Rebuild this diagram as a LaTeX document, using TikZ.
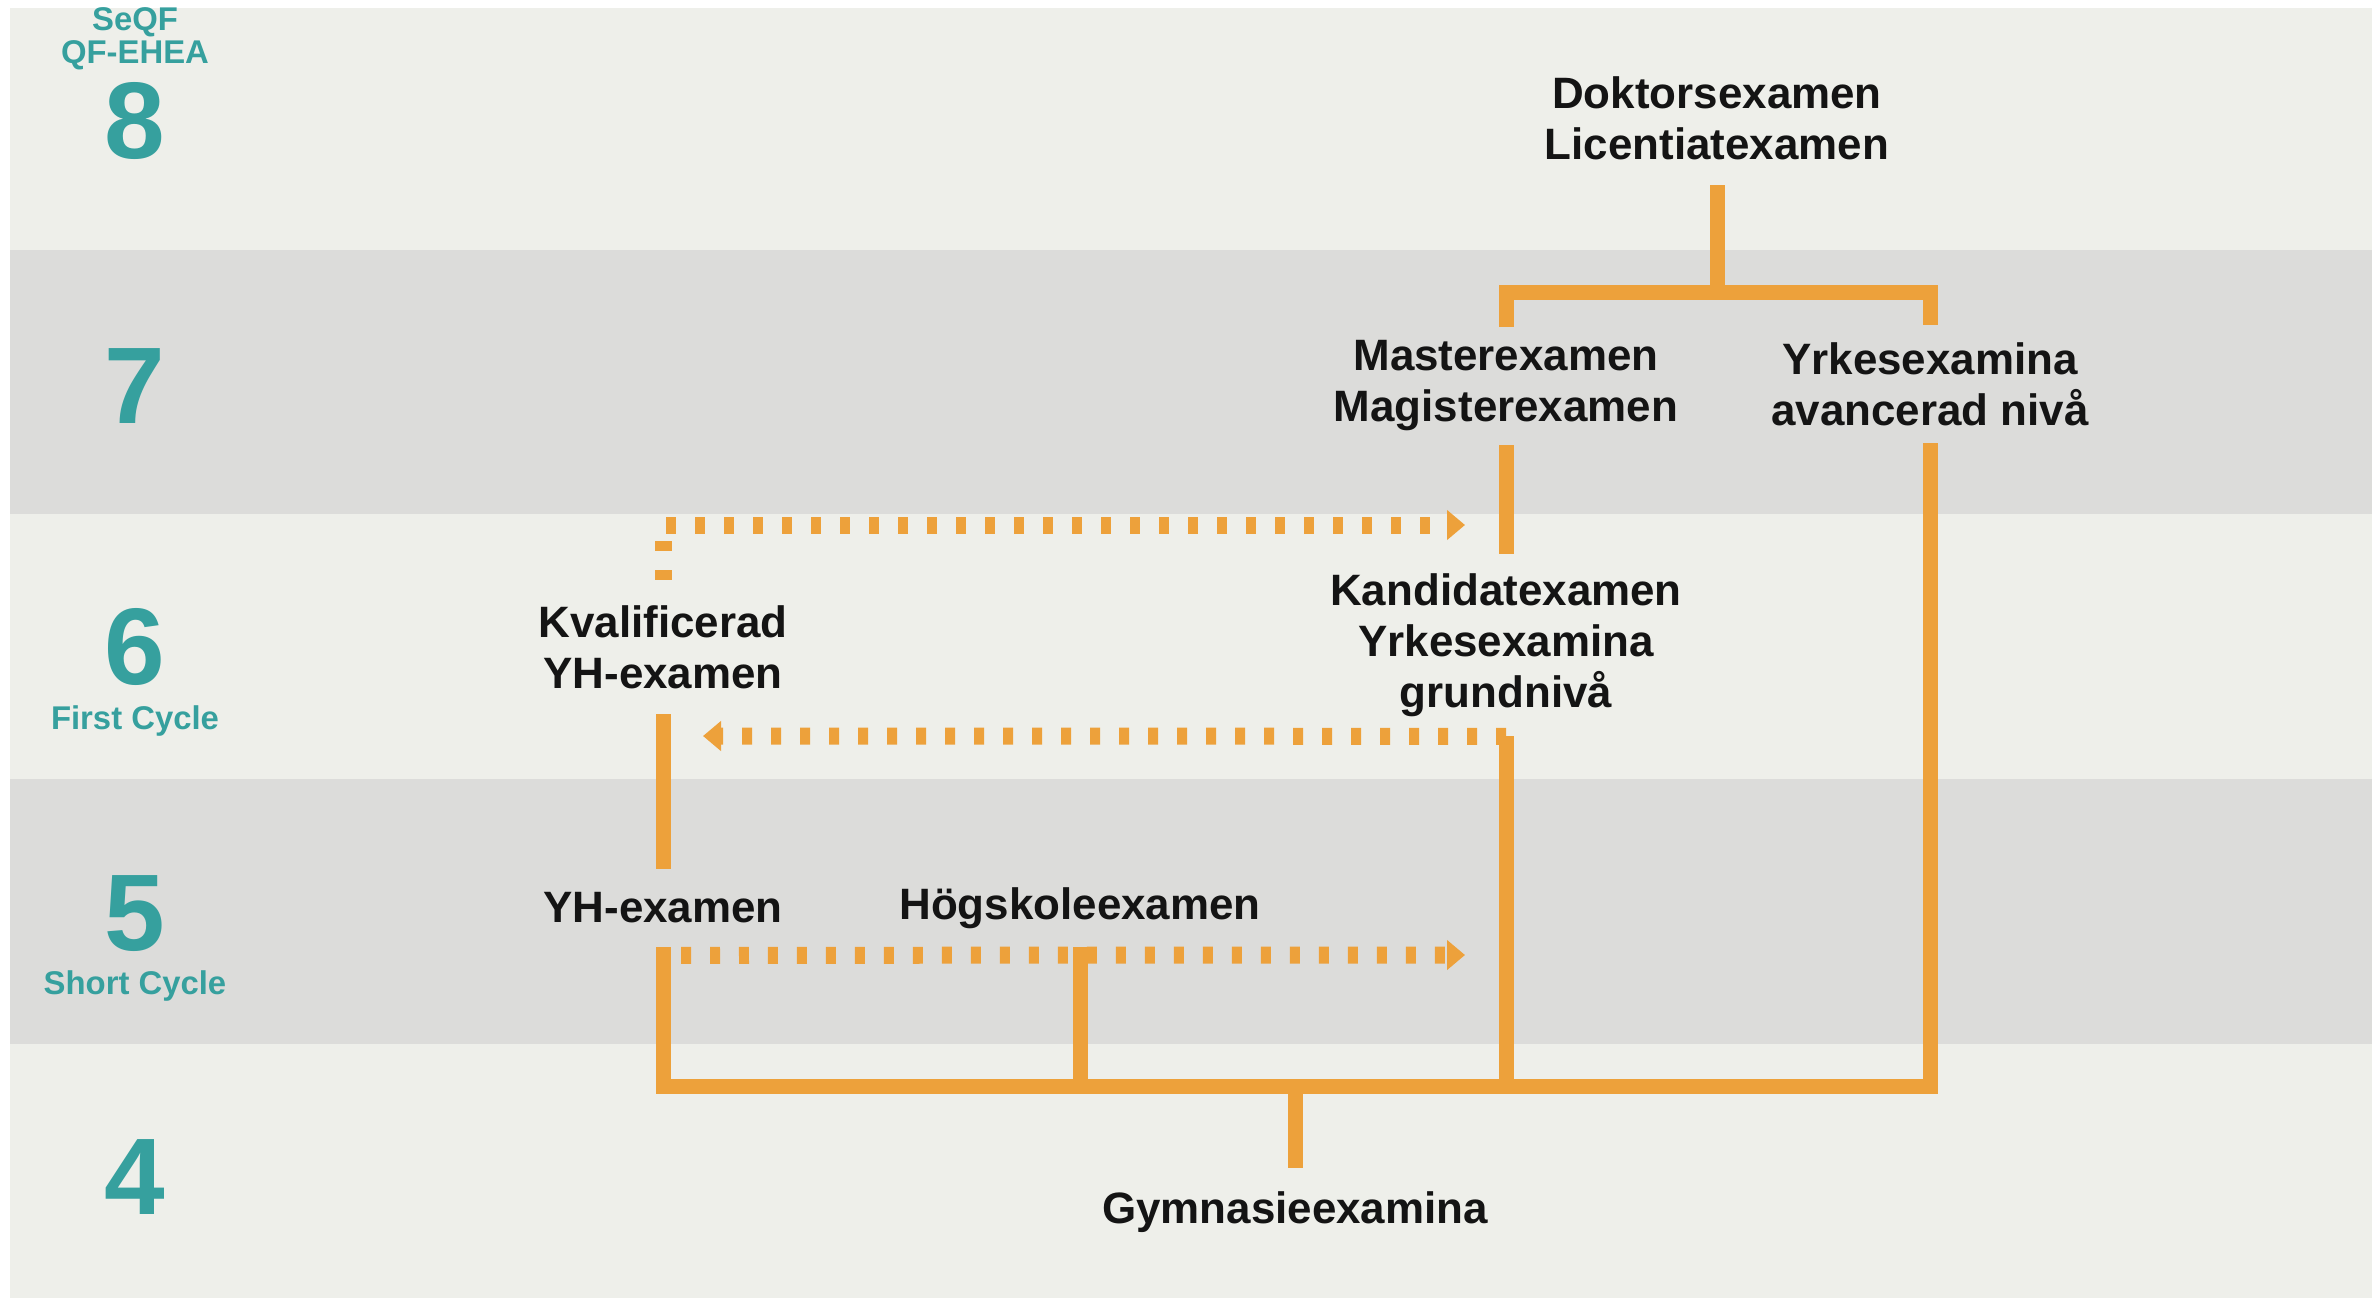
\documentclass[tikz,border=0pt]{standalone}
\usepackage{fontspec}
\setmainfont{Liberation Sans}
\usetikzlibrary{arrows.meta}
\definecolor{orng}{RGB}{237,161,59}
\definecolor{bglight}{RGB}{238,239,234}
\definecolor{bggray}{RGB}{220,220,218}
\definecolor{teal2}{RGB}{54,160,158}
\definecolor{txt}{RGB}{20,20,20}
\begin{document}
\begin{tikzpicture}[x=0.02cm,y=-0.02cm,
  sol/.style={draw=orng, line width=0.3cm, line join=miter},
  dotl/.style={draw=orng, line width=0.34cm, dash pattern=on 0.2cm off 0.38cm},
  tip/.style={-{Triangle[length=0.36cm,width=0.58cm]}},
  lbl/.style={font=\bfseries\fontsize{25}{29}\selectfont, text=txt, align=center, inner sep=0pt},
  lvl/.style={font=\bfseries\fontsize{62}{62}\selectfont, text=teal2, inner sep=0pt},
  lvls/.style={font=\bfseries\fontsize{18.7}{18.7}\selectfont, text=teal2, inner sep=0pt, align=center}]
\useasboundingbox (0,0) rectangle (2372,1301);
\fill[white] (0,0) rectangle (2372,1301);
% bands
\fill[bglight] (10,8) rectangle (2372,250);
\fill[bggray] (10,250) rectangle (2372,514);
\fill[bglight] (10,514) rectangle (2372,779);
\fill[bggray] (10,779) rectangle (2372,1044);
\fill[bglight] (10,1044) rectangle (2372,1298);
% level labels
\node[lvls] (hdr) at (135,39) {SeQF\\QF-EHEA};
\node[lvl] (l8) at (135,121) {8};
\node[lvl] (l7) at (135,386) {7};
\node[lvl] (l6) at (135,647) {6};
\node[lvls] (fc) at (135,721) {First Cycle};
\node[lvl] (l5) at (135,914) {5};
\node[lvls] (sc) at (135,986) {Short Cycle};
\node[lvl] (l4) at (135,1177) {4};
% qualification nodes
\node[lbl, minimum height=2.68cm] (dok) at (1717,118) {Doktorsexamen\\Licentiatexamen};
\node[lbl, minimum height=2.36cm] (master) at (1506,386) {Masterexamen\\Magisterexamen};
\node[lbl, minimum height=2.36cm] (yrk) at (1930,384) {Yrkesexamina\\avancerad nivå};
\node[lbl, minimum height=3.64cm] (kand) at (1506,645) {Kandidatexamen\\Yrkesexamina\\grundnivå};
\node[lbl, minimum height=2.68cm] (kval) at (663,647) {Kvalificerad\\YH-examen};
\node[lbl, minimum height=1.56cm] (yh) at (663,908) {YH-examen};
\node[lbl, minimum height=1.56cm] (hog) at (1080,908) {Högskoleexamen};
\node[lbl, minimum height=1.76cm] (gym) at (1295,1212) {Gymnasieexamina};
% junctions and arrow targets
\coordinate (j8) at (1717,292);
\coordinate (jb) at (1295,1086);
\coordinate (t1) at (1465,525);
\coordinate (t2) at (703,736);
\coordinate (t3) at (1465,955);
% solid connectors
\draw[sol] (dok.south) -- (j8);
\draw[sol] (master.north) |- (j8) -| (yrk.north);
\draw[sol] (master.south) -- (kand.north);
\draw[sol] (kval.south) -- (yh.north);
\draw[sol] (yh.south) |- (jb) -| (yrk.south);
\draw[sol] (kand.south) -- (kand.south |- jb);
\draw[sol] (hog.south) -- (hog.south |- jb);
\draw[sol] (jb) -- (gym.north);
% dotted arrows
\draw[dotl, tip] (kval.north) |- (t1);
\draw[dotl, tip] (kand.south) -- (t2);
\draw[dotl, tip] (yh.south) ++(18,8) -- (t3);
\end{tikzpicture}
\end{document}
